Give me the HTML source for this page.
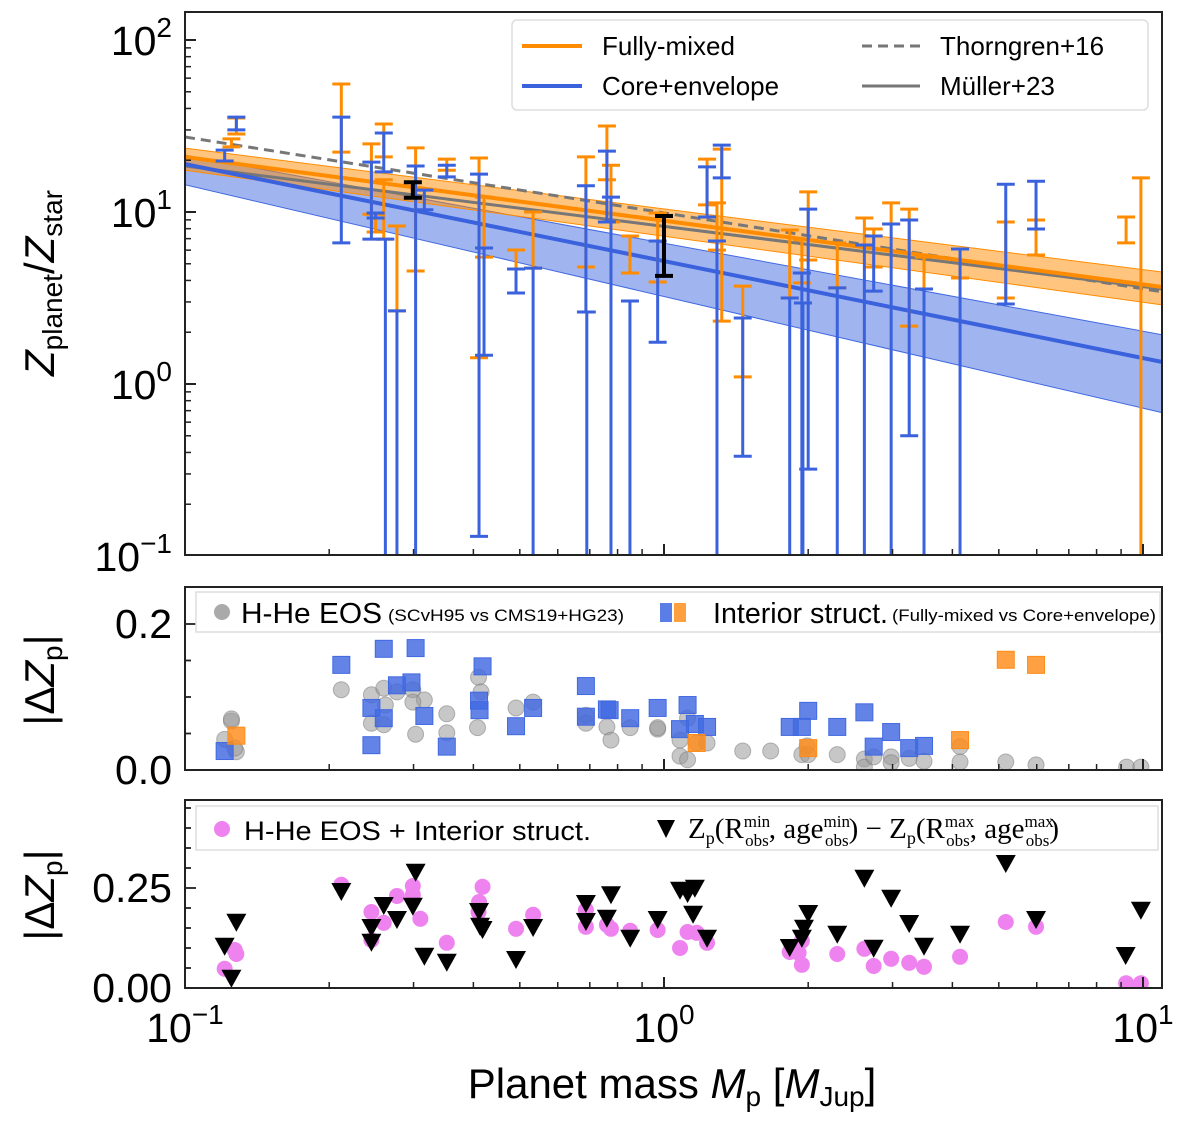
<!DOCTYPE html>
<html><head><meta charset="utf-8">
<style>
html,body{margin:0;padding:0;background:#fff;}
svg{display:block;font-family:"Liberation Sans",sans-serif;}
</style></head>
<body>
<svg id="chart" width="1200" height="1125" viewBox="0 0 1200 1125" xmlns="http://www.w3.org/2000/svg">
<defs>
<clipPath id="clipTop"><rect x="185" y="12" width="977" height="543"/></clipPath>
<clipPath id="clipMid"><rect x="185" y="587" width="977" height="183"/></clipPath>
<clipPath id="clipBot"><rect x="185" y="800" width="977" height="188"/></clipPath>
</defs>
<g id="topPanel"></g>
<g id="midPanel"></g>
<g id="botPanel"></g>
<g id="axes"></g>

<!-- legends -->
<g>
<rect x="512" y="20" width="636" height="90" rx="5" fill="#fff" fill-opacity="0.85" stroke="#ddd" stroke-width="1.5"/>
<line x1="522" y1="46" x2="582" y2="46" stroke="#ff8c00" stroke-width="4"/>
<text x="602" y="55" font-size="26">Fully-mixed</text>
<line x1="522" y1="86" x2="582" y2="86" stroke="#3a62dd" stroke-width="4"/>
<text x="602" y="95" font-size="26">Core+envelope</text>
<line x1="862" y1="46" x2="920" y2="46" stroke="#777" stroke-width="3" stroke-dasharray="10,6"/>
<text x="940" y="55" font-size="26">Thorngren+16</text>
<line x1="862" y1="86" x2="920" y2="86" stroke="#777" stroke-width="3"/>
<text x="940" y="95" font-size="26">Müller+23</text>
</g>
<g>
<rect x="196" y="592" width="964" height="40" fill="#fff" stroke="#ddd" stroke-width="1.5"/>
<circle cx="222" cy="612" r="8" fill="#aaa"/>
<text x="241" y="623" font-size="29" textLength="141" lengthAdjust="spacingAndGlyphs">H-He EOS</text>
<text x="388" y="621" font-size="17" textLength="236" lengthAdjust="spacingAndGlyphs">(SCvH95 vs CMS19+HG23)</text>
<rect x="660" y="603" width="12" height="19" fill="#5b7ee6"/>
<rect x="674" y="603" width="12" height="19" fill="#ffa040"/>
<text x="713" y="623" font-size="29" textLength="175" lengthAdjust="spacingAndGlyphs">Interior struct.</text>
<text x="892" y="621" font-size="17" textLength="264" lengthAdjust="spacingAndGlyphs">(Fully-mixed vs Core+envelope)</text>
</g>
<g>
<rect x="196" y="806" width="962" height="44" fill="#fff" stroke="#ddd" stroke-width="1.5"/>
<circle cx="222" cy="829" r="8" fill="#ee82ee"/>
<text x="244" y="840" font-size="27" textLength="347" lengthAdjust="spacingAndGlyphs">H-He EOS + Interior struct.</text>
<path d="M657,820 L675,820 L666,838 Z" fill="#000"/>
<text x="688" y="838" font-family="Liberation Serif, serif" font-size="29">Z<tspan font-size="18" dy="6">p</tspan><tspan dy="-6">(R</tspan><tspan font-size="17" dy="-11">min</tspan><tspan font-size="17" dx="-25" dy="19">obs</tspan><tspan dy="-8">, age</tspan><tspan font-size="17" dy="-11">min</tspan><tspan font-size="17" dx="-25" dy="19">obs</tspan><tspan dy="-8">) − Z</tspan><tspan font-size="18" dy="6">p</tspan><tspan dy="-6">(R</tspan><tspan font-size="17" dy="-11">max</tspan><tspan font-size="17" dx="-28" dy="19">obs</tspan><tspan dy="-8">, age</tspan><tspan font-size="17" dy="-11">max</tspan><tspan font-size="17" dx="-28" dy="19">obs</tspan><tspan dy="-8">)</tspan></text>
</g>

<!-- axis titles -->
<text x="672" y="1098" font-size="42" text-anchor="middle">Planet mass <tspan font-style="italic">M</tspan><tspan font-size="28" dy="8">p</tspan><tspan dy="-8"> [</tspan><tspan font-style="italic">M</tspan><tspan font-size="28" dy="8">Jup</tspan><tspan dy="-8">]</tspan></text>
<text transform="translate(54,283) rotate(-90)" font-size="42" text-anchor="middle"><tspan font-style="italic">Z</tspan><tspan font-size="28" dy="8">planet</tspan><tspan dy="-8">/</tspan><tspan font-style="italic">Z</tspan><tspan font-size="28" dy="8">star</tspan></text>
<text transform="translate(54,680) rotate(-90)" font-size="42" text-anchor="middle">|Δ<tspan font-style="italic">Z</tspan><tspan font-size="28" dy="8">p</tspan><tspan dy="-8">|</tspan></text>
<text transform="translate(54,895) rotate(-90)" font-size="42" text-anchor="middle">|Δ<tspan font-style="italic">Z</tspan><tspan font-size="28" dy="8">p</tspan><tspan dy="-8">|</tspan></text>
</svg>

<script>
// ---------- data ----------
const fitMass = [0.1, 11];
const fullyMixedMid = [20.9, 3.66];
const fullyMixedLo = [17.5, 2.88];
const fullyMixedHi = [23.5, 4.47];
const coreEnvMid = [19.0, 1.34];
const coreEnvLo = [14.4, 0.68];
const coreEnvHi = [21.4, 1.93];
const thorngren = [27.3, 3.43];
const muller = [18.5, 3.56];

const orangeMass = [0.125,0.128,0.212,0.245,0.25,0.26,0.26,0.277,0.303,0.352,0.411,0.421,0.491,0.533,0.687,0.76,0.775,0.849,0.97,1.23,1.29,1.32,1.46,1.83,1.94,2.0,2.3,2.62,2.74,2.98,3.25,3.49,4.15,5.17,5.98,9.22,9.9];
const orangeLow  = [23.9,28.4,22.3,9.7,7.65,20.9,6.96,2.66,4.54,17.5,1.42,5.47,4.66,4.72,4.79,15.4,8.74,4.42,3.92,11.0,6.0,2.32,1.10,3.16,3.87,5.26,3.62,6.43,4.79,8.51,2.17,3.57,4.13,3.16,5.62,6.61,0.01];
const orangeHigh = [26.6,35.2,55.5,24.9,9.7,32.5,15.4,8.29,23.6,20.3,20.6,12.2,6.01,10.0,20.9,31.6,18.7,7.25,9.87,20.3,11.3,23.2,3.71,7.86,6.87,13.1,6.61,9.23,7.97,11.3,10.4,5.47,6.09,8.74,8.98,9.35,15.8];

const blueMass = [0.121,0.128,0.212,0.245,0.25,0.26,0.262,0.277,0.303,0.316,0.352,0.411,0.421,0.491,0.533,0.687,0.69,0.76,0.775,0.849,0.97,1.23,1.29,1.32,1.46,1.83,1.94,1.95,2.0,2.3,2.62,2.74,2.98,3.25,3.49,4.15,5.17,5.98];
const blueLow  = [19.8,30.0,6.61,6.96,9.23,17.1,0.01,0.01,0.01,10.3,16.0,0.13,1.47,3.38,0.01,2.62,0.01,8.74,0.01,0.01,1.75,9.35,0.01,15.8,0.38,0.01,0.01,0.01,0.32,0.01,0.01,3.47,0.01,0.50,0.01,0.01,2.92,7.97];
const blueHigh = [22.9,35.6,35.6,19.5,9.87,28.8,6.96,2.66,18.5,13.4,18.7,16.6,6.18,4.66,4.72,14.2,2.62,22.6,12.2,3.04,6.78,18.3,6.78,24.5,2.42,3.16,4.42,2.96,10.4,3.62,6.43,7.25,8.51,8.98,3.57,6.09,14.5,15.1];

const blackMass = [0.299, 1.0];
const blackLow = [12.1, 4.25];
const blackHigh = [14.9, 9.48];

const eosMass = [0.121,0.125,0.125,0.128,0.127,0.212,0.245,0.26,0.277,0.299,0.316,0.299,0.262,0.245,0.26,0.303,0.352,0.352,0.41,0.415,0.408,0.491,0.533,0.687,0.687,0.76,0.775,0.85,0.97,0.97,1.08,1.08,1.12,1.12,1.17,1.23,1.46,1.94,1.99,1.67,2.0,2.3,2.62,2.62,2.74,2.98,2.98,3.25,3.49,4.15,4.15,5.17,5.98,9.24,9.9];
const eosVal  = [0.042,0.067,0.07,0.025,0.03,0.110,0.103,0.112,0.107,0.110,0.096,0.093,0.089,0.064,0.062,0.049,0.077,0.051,0.127,0.107,0.058,0.085,0.093,0.075,0.064,0.059,0.041,0.058,0.056,0.058,0.041,0.019,0.071,0.014,0.037,0.037,0.026,0.021,0.033,0.026,0.021,0.021,0.015,0.004,0.018,0.018,0.010,0.016,0.012,0.032,0.011,0.011,0.007,0.004,0.004];

const sqBlueMass = [0.121,0.212,0.26,0.303,0.245,0.26,0.277,0.297,0.316,0.245,0.352,0.418,0.411,0.412,0.491,0.533,0.687,0.687,0.76,0.77,0.85,0.97,1.12,1.08,1.16,1.23,1.83,1.94,2.0,2.3,2.62,2.74,2.98,3.25,3.49];
const sqBlueVal  = [0.026,0.144,0.166,0.167,0.085,0.071,0.116,0.120,0.074,0.034,0.032,0.142,0.095,0.082,0.060,0.085,0.115,0.073,0.083,0.082,0.071,0.085,0.089,0.056,0.063,0.059,0.059,0.059,0.081,0.059,0.079,0.032,0.052,0.030,0.033];
const sqOrangeMass = [0.128,1.17,2.0,4.15,5.17,5.98];
const sqOrangeVal  = [0.047,0.037,0.030,0.041,0.151,0.144];

const triMass = [0.121,0.128,0.125,0.212,0.245,0.245,0.26,0.277,0.303,0.299,0.316,0.352,0.411,0.413,0.418,0.491,0.533,0.687,0.687,0.76,0.775,0.85,0.97,1.08,1.16,1.12,1.15,1.23,1.83,1.94,2.0,1.96,2.3,2.62,2.74,2.98,3.25,3.49,4.15,5.17,5.98,9.2,9.9];
const triVal  = [0.108,0.168,0.028,0.245,0.155,0.118,0.21,0.175,0.293,0.208,0.083,0.068,0.195,0.158,0.15,0.075,0.155,0.215,0.17,0.178,0.237,0.128,0.175,0.248,0.253,0.24,0.188,0.128,0.105,0.128,0.19,0.153,0.138,0.278,0.103,0.228,0.165,0.108,0.138,0.315,0.175,0.085,0.198];
const pinkMass = [0.121,0.127,0.128,0.212,0.245,0.245,0.26,0.277,0.299,0.299,0.31,0.352,0.418,0.411,0.41,0.491,0.533,0.687,0.687,0.76,0.775,0.85,0.97,1.08,1.12,1.17,1.23,1.83,1.94,1.94,1.91,2.3,2.62,2.74,2.98,3.25,3.49,4.15,5.17,5.98,9.22,9.9];
const pinkVal  = [0.048,0.095,0.085,0.258,0.19,0.12,0.163,0.23,0.255,0.233,0.173,0.113,0.253,0.215,0.19,0.148,0.183,0.195,0.153,0.158,0.148,0.143,0.145,0.10,0.14,0.138,0.113,0.09,0.118,0.058,0.088,0.085,0.098,0.055,0.073,0.063,0.053,0.078,0.165,0.153,0.012,0.012];

// ---------- scales ----------
const X0 = 185, X1 = 1162, DEC = 479;
function X(m){ return X0 + DEC*(Math.log10(m) + 1); }
function YT(z){ return 212 - 172*(Math.log10(z) - 1); }
function YM(v){ return 770 - 730*v; }
function YB(v){ return 988 - 400*v; }

const NS = 'http://www.w3.org/2000/svg';
function mk(tag, attrs, parent){
  const e = document.createElementNS(NS, tag);
  for (const k in attrs) e.setAttribute(k, attrs[k]);
  parent.appendChild(e);
  return e;
}
const gTopRoot = document.getElementById('topPanel');
const gMidRoot = document.getElementById('midPanel');
const gBotRoot = document.getElementById('botPanel');
const axesG = document.getElementById('axes');

// ---------- top panel ----------
const gTop = mk('g', {'clip-path':'url(#clipTop)'}, gTopRoot);
function band(lo, hi, fill, name){
  const d = `M${X(fitMass[0])},${YT(hi[0])} L${X(fitMass[1])},${YT(hi[1])} L${X(fitMass[1])},${YT(lo[1])} L${X(fitMass[0])},${YT(lo[0])} Z`;
  const p = mk('path', {d:d, fill:fill, 'fill-opacity':0.5, stroke:fill, 'stroke-width':1}, gTop);
  
  
}
function fitLine(vals, color, w, dash, name){
  const l = mk('line', {x1:X(fitMass[0]), y1:YT(vals[0]), x2:X(fitMass[1]), y2:YT(vals[1]), stroke:color, 'stroke-width':w}, gTop);
  if (dash) l.setAttribute('stroke-dasharray', dash);
  
  
}
band(coreEnvLo, coreEnvHi, '#4169e1', 'core-envelope-band');
band(fullyMixedLo, fullyMixedHi, '#ff8c00', 'fully-mixed-band');
fitLine(thorngren, '#777', 3, '10,6', 'thorngren-line');
fitLine(muller, '#777', 3, null, 'muller-line');
fitLine(fullyMixedMid, '#ff8c00', 4, null, 'fully-mixed-line');
fitLine(coreEnvMid, '#3a62dd', 4, null, 'core-envelope-line');

function errbar(m, lo, hi, color, w, capw, name){
  const g = mk('g', {}, gTop);
  
  
  const x = X(m), y1 = YT(hi), y2 = YT(lo);
  mk('line', {x1:x, y1:y1, x2:x, y2:y2, stroke:color, 'stroke-width':w}, g);
  mk('line', {x1:x-capw, y1:y1, x2:x+capw, y2:y1, stroke:color, 'stroke-width':w}, g);
  mk('line', {x1:x-capw, y1:y2, x2:x+capw, y2:y2, stroke:color, 'stroke-width':w}, g);
}
for (let i=0;i<orangeMass.length;i++) errbar(orangeMass[i], orangeLow[i], orangeHigh[i], '#ff8c00', 3, 9, 'fully-mixed-errorbar');
for (let i=0;i<blueMass.length;i++) errbar(blueMass[i], blueLow[i], blueHigh[i], '#3a62dd', 3, 9, 'core-envelope-errorbar');
for (let i=0;i<blackMass.length;i++) errbar(blackMass[i], blackLow[i], blackHigh[i], '#000', 4, 9, 'reference-errorbar');

// ---------- middle panel ----------
const gMid = mk('g', {'clip-path':'url(#clipMid)'}, gMidRoot);
for (let i=0;i<eosMass.length;i++){
  const c = mk('circle', {cx:X(eosMass[i]), cy:YM(eosVal[i]), r:8, fill:'#999', 'fill-opacity':0.55, stroke:'#777', 'stroke-opacity':0.5, 'stroke-width':1}, gMid);
  
  
}
function square(m, v, fill, name){
  const r = mk('rect', {x:X(m)-8.5, y:YM(v)-8.5, width:17, height:17, fill:fill, 'fill-opacity':0.82, stroke:fill, 'stroke-width':1}, gMid);
  
  
}
for (let i=0;i<sqBlueMass.length;i++) square(sqBlueMass[i], sqBlueVal[i], '#4169e1', 'interior-core-envelope-square');
for (let i=0;i<sqOrangeMass.length;i++) square(sqOrangeMass[i], sqOrangeVal[i], '#ff8c1a', 'interior-fully-mixed-square');

// ---------- bottom panel ----------
const gBot = mk('g', {'clip-path':'url(#clipBot)'}, gBotRoot);
for (let i=0;i<pinkMass.length;i++){
  const c = mk('circle', {cx:X(pinkMass[i]), cy:YB(pinkVal[i]), r:8, fill:'#ee82ee'}, gBot);
  
  
}
for (let i=0;i<triMass.length;i++){
  const x = X(triMass[i]), y = YB(triVal[i]);
  const t = mk('path', {d:`M${x-10},${y-7} L${x+10},${y-7} L${x},${y+11} Z`, fill:'#000'}, gBot);
  
  
}

// ---------- axes ----------
const panels = [[12,555],[587,770],[800,988]];
panels.forEach((p) => {
  const r = mk('rect', {x:X0, y:p[0], width:X1-X0, height:p[1]-p[0], fill:'none', stroke:'#222', 'stroke-width':2}, axesG);
  
  
  for (let d=-1; d<=1; d++){
    for (let k=1;k<=9;k++){
      const m = k*Math.pow(10,d);
      const x = X(m);
      if (x < X0 || x > X1) continue;
      const len = k===1 ? 11 : 6;
      mk('line', {x1:x, y1:p[1], x2:x, y2:p[1]-len, stroke:'#222', 'stroke-width':k===1?2:1.5}, axesG);
    }
  }
});
const xTickVals = [0.1, 1, 10];
const xTickExp = ['−1', '0', '1'];
for (let i=0;i<xTickVals.length;i++){
  const t = mk('text', {x:X(xTickVals[i]), y:1042, 'font-size':41, 'text-anchor':'middle'}, axesG);
  
  
  t.innerHTML = `10<tspan font-size="28" dy="-18">${xTickExp[i]}</tspan>`;
}
const yTopVals = [100, 10, 1, 0.1];
const yTopExp = ['2', '1', '0', '−1'];
for (let d=-1; d<=2; d++){
  for (let k=1;k<=9;k++){
    const z = k*Math.pow(10,d);
    const y = YT(z);
    if (y < 12 || y > 555) continue;
    mk('line', {x1:X0, y1:y, x2:X0+(k===1?11:6), y2:y, stroke:'#222', 'stroke-width':k===1?2:1.5}, axesG);
  }
}
for (let i=0;i<yTopVals.length;i++){
  const t = mk('text', {x:172, y:YT(yTopVals[i])+15, 'font-size':41, 'text-anchor':'end'}, axesG);
  
  
  t.innerHTML = `10<tspan font-size="28" dy="-18">${yTopExp[i]}</tspan>`;
}
const yMidVals = [0.0, 0.2];
const yMidLabels = ['0.0', '0.2'];
[0,0.05,0.1,0.15,0.2].forEach(v => mk('line', {x1:X0, y1:YM(v), x2:X0+(v===0||v===0.2?11:6), y2:YM(v), stroke:'#222', 'stroke-width':1.8}, axesG));
for (let i=0;i<yMidVals.length;i++){
  const t = mk('text', {x:172, y:YM(yMidVals[i])+14, 'font-size':41, 'text-anchor':'end'}, axesG);
  
  
  t.textContent = yMidLabels[i];
}
const yBotVals = [0.0, 0.25];
const yBotLabels = ['0.00', '0.25'];
[0,0.05,0.1,0.15,0.2,0.25,0.3,0.35,0.4,0.45].forEach(v => mk('line', {x1:X0, y1:YB(v), x2:X0+(v===0||v===0.25?11:6), y2:YB(v), stroke:'#222', 'stroke-width':1.8}, axesG));
for (let i=0;i<yBotVals.length;i++){
  const t = mk('text', {x:172, y:YB(yBotVals[i])+14, 'font-size':41, 'text-anchor':'end'}, axesG);
  
  
  t.textContent = yBotLabels[i];
}
</script>
</body></html>
